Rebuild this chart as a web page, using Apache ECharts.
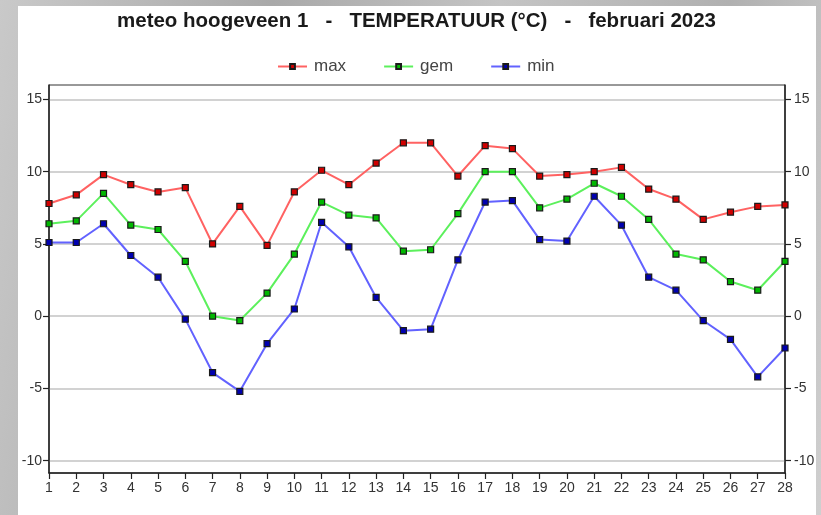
<!DOCTYPE html>
<html>
<head>
<meta charset="utf-8">
<script src="https://cdn.jsdelivr.net/npm/echarts@6/dist/echarts.min.js"></script>
<style>
  html, body { margin: 0; padding: 0; }
  body {
    width: 821px; height: 515px; position: relative; overflow: hidden;
    background: linear-gradient(100deg, #c9c9c9 0%, #a9a9a9 30%, #c4c4c4 55%, #b0b0b0 80%, #cfcfcf 100%);
  }
  #panel { position: absolute; left: 18px; top: 6px; width: 798px; height: 509px; background: #ffffff; }
  #chart { position: absolute; left: 0; top: 0; width: 821px; height: 515px; }
</style>
</head>
<body>
<div id="panel"></div>
<div id="chart"></div>
<script>
const days = ['1','2','3','4','5','6','7','8','9','10','11','12','13','14','15','16','17','18','19','20','21','22','23','24','25','26','27','28'];
const maxTemp = [7.8, 8.4, 9.8, 9.1, 8.6, 8.9, 5.0, 7.6, 4.9, 8.6, 10.1, 9.1, 10.6, 12.0, 12.0, 9.7, 11.8, 11.6, 9.7, 9.8, 10.0, 10.3, 8.8, 8.1, 6.7, 7.2, 7.6, 7.7];
const gemTemp = [6.4, 6.6, 8.5, 6.3, 6.0, 3.8, 0.0, -0.3, 1.6, 4.3, 7.9, 7.0, 6.8, 4.5, 4.6, 7.1, 10.0, 10.0, 7.5, 8.1, 9.2, 8.3, 6.7, 4.3, 3.9, 2.4, 1.8, 3.8];
const minTemp = [5.1, 5.1, 6.4, 4.2, 2.7, -0.2, -3.9, -5.2, -1.9, 0.5, 6.5, 4.8, 1.3, -1.0, -0.9, 3.9, 7.9, 8.0, 5.3, 5.2, 8.3, 6.3, 2.7, 1.8, -0.3, -1.6, -4.2, -2.2];
const yTicks = [-10, -5, 0, 5, 10, 15];
const titleText = 'meteo hoogeveen 1   -   TEMPERATUUR (°C)   -   februari 2023';

const chart = echarts.init(document.getElementById('chart'), null, { renderer: 'canvas' });
const FONT = 'Liberation Sans, Arial, sans-serif';

function mkSeries(name, data, lineColor, fillColor) {
  return {
    name: name, type: 'line', data: data,
    symbol: 'rect', symbolSize: 6,
    lineStyle: { color: lineColor, width: 2 },
    itemStyle: { color: fillColor, borderColor: '#1a1a1a', borderWidth: 1.2 },
    emphasis: { disabled: true },
    animation: false
  };
}

const yAxisBase = {
  type: 'value', min: -10.85, max: 16,
  axisLine: { show: true, onZero: false, lineStyle: { color: '#222', width: 1.5 } },
  axisTick: { show: true, length: 6, customValues: yTicks, lineStyle: { color: '#222', width: 1.2 } },
  axisLabel: { customValues: yTicks, color: '#333', fontSize: 14, fontFamily: FONT },
};

chart.setOption({
  animation: false,
  title: {
    text: titleText, left: 117, top: 11, padding: 0,
    textStyle: { fontFamily: FONT, fontWeight: 'bold', fontSize: 20.5, color: '#1a1a1a' }
  },
  legend: {
    left: 277, top: 58, padding: 0, itemWidth: 29, itemHeight: 6, itemGap: 37,
    textStyle: { fontFamily: FONT, fontSize: 17, color: '#444', padding: [0, 0, 0, 2] },
    data: ['max', 'gem', 'min']
  },
  grid: { left: 49, right: 36, top: 85, bottom: 42, show: true, borderColor: '#333', borderWidth: 1, backgroundColor: 'transparent' },
  xAxis: {
    type: 'category', data: days, boundaryGap: false,
    axisLine: { show: true, onZero: false, lineStyle: { color: '#222', width: 1.5 } },
    axisTick: { show: true, interval: 0, length: 6, lineStyle: { color: '#222', width: 1.2 } },
    axisLabel: { interval: 0, color: '#333', fontSize: 14, fontFamily: FONT, margin: 8 },
    splitLine: { show: false }
  },
  yAxis: [
    Object.assign({}, yAxisBase, {
      position: 'left',
      axisLabel: Object.assign({}, yAxisBase.axisLabel, { margin: 7 }),
      splitLine: { show: true, lineStyle: { color: '#d2d2d2', width: 2 } }
    }),
    Object.assign({}, yAxisBase, {
      position: 'right',
      axisLabel: Object.assign({}, yAxisBase.axisLabel, { margin: 9 }),
      splitLine: { show: false }
    })
  ],
  series: [
    mkSeries('max', maxTemp, '#ff6262', '#d00000'),
    mkSeries('gem', gemTemp, '#5cf05c', '#00b800'),
    mkSeries('min', minTemp, '#6262ff', '#0000b0')
  ]
});
</script>
</body>
</html>
